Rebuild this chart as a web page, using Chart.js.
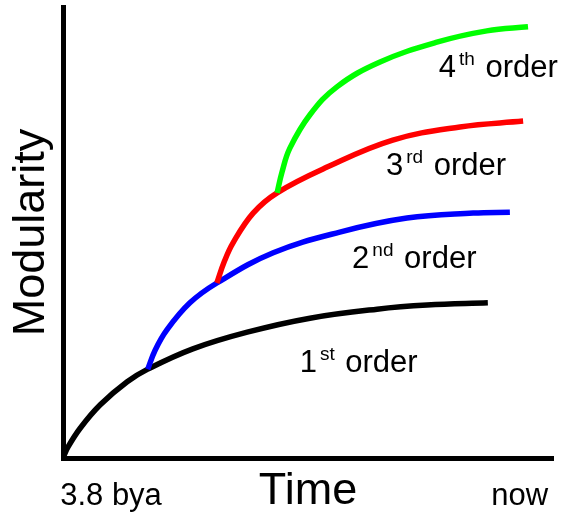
<!DOCTYPE html>
<html>
<head>
<meta charset="utf-8">
<title>Modularity over time</title>
<script src="https://cdn.jsdelivr.net/npm/chart.js@4.4.1/dist/chart.umd.min.js"></script>
<style>
  html, body { margin: 0; padding: 0; background: #fff; }
  #wrap { width: 564px; height: 514px; }
</style>
</head>
<body>
<div id="wrap"><canvas id="chart"></canvas></div>
<script>
// time: 0 = 3.8 bya .. 100 = now, modularity in arbitrary units 0..100
const firstX  = [0, 1.0, 3.5, 7.6, 13.1, 17.3, 26.5, 37.6, 50.4, 64.1, 74.3, 86.7];
const firstY  = [0, 2.4, 6.6, 11.8, 16.9, 19.7, 24.2, 27.9, 31.0, 33.0, 33.9, 34.4];

const secondX = [17.3, 18.8, 21.2, 25.9, 31.4, 42.9, 56.5, 70.2, 83.7, 91.2];
const secondY = [19.7, 23.9, 28.4, 34.4, 38.8, 45.5, 50.1, 53.2, 54.3, 54.5];

const thirdX  = [31.4, 32.9, 34.7, 38.8, 43.7, 53.9, 67.3, 81.0, 93.9];
const thirdY  = [38.8, 43.5, 47.7, 54.3, 58.8, 64.5, 70.5, 73.4, 74.7];

const fourthX = [43.7, 44.7, 46.3, 50.4, 55.9, 64.7, 76.3, 86.5, 94.9];
const fourthY = [58.8, 63.4, 68.7, 76.1, 82.3, 87.8, 92.2, 94.7, 95.6];

const timeTicks = [9.8, 93.2];
const timeTickLabels = ['3.8 bya', 'now'];

const FONT = "'Liberation Sans', Arial, Helvetica, sans-serif";

// where each "Nth order" caption sits (data units, left / baseline)
const orderLabels = [
  { num: '1', sup: 'st', x: 48.3, y: 19.1 },
  { num: '2', sup: 'nd', x: 59.0, y: 42.1 },
  { num: '3', sup: 'rd', x: 65.9, y: 62.7 },
  { num: '4', sup: 'th', x: 76.7, y: 84.5 }
];

function toPoints(xs, ys) {
    return xs.map((x, i) => ({ x: x, y: ys[i] }));
}

function curve(xs, ys, color, order) {
    return {
        data: toPoints(xs, ys),
        borderColor: color,
        backgroundColor: color,
        borderWidth: 5.5,
        pointRadius: 0,
        fill: false,
        tension: 0.4,
        order: order
    };
}

const orderLabelPlugin = {
    id: 'orderLabels',
    afterDatasetsDraw(chart) {
        const { ctx, scales: { x, y } } = chart;
        ctx.save();
        ctx.fillStyle = '#000';
        ctx.textAlign = 'left';
        ctx.textBaseline = 'alphabetic';
        orderLabels.forEach(l => {
            let px = x.getPixelForValue(l.x);
            const py = y.getPixelForValue(l.y);
            ctx.font = '31px ' + FONT;
            ctx.fillText(l.num, px, py);
            px += ctx.measureText(l.num).width + 3;
            ctx.font = '19px ' + FONT;
            ctx.fillText(l.sup, px, py - 12);
            px += ctx.measureText(l.sup).width + 2;
            ctx.font = '31px ' + FONT;
            ctx.fillText(' order', px, py);
        });
        ctx.restore();
    }
};

Chart.defaults.color = '#000';
Chart.defaults.font.family = FONT;

new Chart(document.getElementById('chart'), {
    type: 'line',
    data: {
        datasets: [
            curve(firstX, firstY, '#000000', 4),
            curve(secondX, secondY, '#0000ff', 3),
            curve(thirdX, thirdY, '#ff0000', 2),
            curve(fourthX, fourthY, '#00ff00', 1)
        ]
    },
    options: {
        responsive: true,
        maintainAspectRatio: false,
        animation: false,
        layout: { padding: { top: 7, right: 11, bottom: 0, left: 0 } },
        plugins: {
            legend: { display: false },
            tooltip: { enabled: false }
        },
        scales: {
            x: {
                type: 'linear',
                min: 0,
                max: 100,
                grid: { display: false, drawTicks: false },
                border: { display: true, color: '#000', width: 5 },
                afterBuildTicks: scale => {
                    scale.ticks = timeTicks.map(v => ({ value: v }));
                },
                afterFit: scale => { scale.height = 56; },
                ticks: {
                    autoSkip: false,
                    maxRotation: 0,
                    padding: 0,
                    // tall line box pushes the labels down to the title's baseline
                    font: { size: 31, family: FONT, lineHeight: 2.45 },
                    color: '#000',
                    callback: (value, index) => timeTickLabels[index]
                },
                title: {
                    display: true,
                    text: 'Time',
                    color: '#000',
                    font: { size: 45, family: FONT, lineHeight: 1 },
                    padding: { top: 0, bottom: 0 }
                }
            },
            y: {
                type: 'linear',
                min: 0,
                max: 100,
                grid: { display: false, drawTicks: false },
                border: { display: true, color: '#000', width: 5 },
                ticks: { display: false },
                afterFit: scale => { scale.width = 63; },
                title: {
                    display: true,
                    text: 'Modularity',
                    color: '#000',
                    font: { size: 45, family: FONT, lineHeight: 1 },
                    padding: { top: 9, bottom: 0 }
                }
            }
        }
    },
    plugins: [orderLabelPlugin]
});
</script>
</body>
</html>
